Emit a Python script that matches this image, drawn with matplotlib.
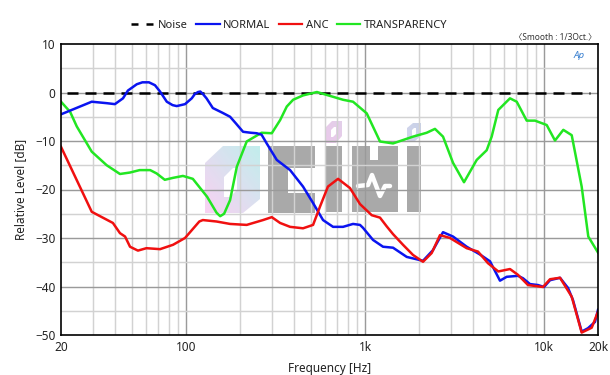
import numpy as np
import matplotlib
matplotlib.use("Agg")
import matplotlib.pyplot as plt
from matplotlib.patches import Polygon, Rectangle
from matplotlib.lines import Line2D

plt.rcParams['font.family'] = ['Noto Sans', 'Noto Sans CJK KR', 'DejaVu Sans']

# ---------------- data ----------------
noise_f = [21.6, 18000]
noise_db = [0, 0]

normal_f = [20, 29.7, 36, 40, 44.4, 47.3, 53, 57, 62, 67, 71.5, 78, 84, 88.6, 98.6, 107.5,
            112, 116.6, 120, 124, 130, 141, 160, 176, 190, 208, 230, 248, 264, 282, 321, 381, 450, 512,
            582, 662, 753, 856, 936, 973, 1107, 1259, 1432, 1708, 2106, 2394, 2724,
            3098, 3694, 4382, 4984, 5668, 6180, 7146, 7622, 8338, 9244, 9986, 10788,
            12268, 13600, 14496, 16212, 17580, 19240, 20000]
normal_db = [-4.5, -1.9, -2.2, -2.4, -1.2, 0.4, 1.7, 2.1, 2.1, 1.5, 0.2, -1.9, -2.6, -2.8, -2.4, -1.2,
             -0.3, 0.1, 0.2, -0.3, -1.2, -3.2, -4.2, -5.0, -6.4, -8.1, -8.3, -8.4, -8.7, -10.5, -13.9, -16.0, -19.4, -22.8,
             -26.3, -27.7, -27.7, -27.1, -27.3, -27.9, -30.4, -31.8, -32.0, -33.9, -34.7, -32.5, -28.8,
             -29.7, -31.8, -33.4, -34.8, -38.8, -38.0, -37.8, -38.3, -39.5, -39.7, -40.1, -38.7,
             -38.2, -40.3, -42.8, -49.3, -48.6, -47.3, -44.8]

anc_f = [20, 29.7, 39, 42.7, 45.6, 48.6, 53.8, 60, 71.5, 84.5, 98.6, 107.5, 118.5, 124,
         148, 176, 218, 269, 301, 335, 381, 450, 512, 560, 620, 706, 823, 936, 1089,
         1211, 1320, 1432, 1628, 1852, 2106, 2355, 2620, 2980, 3694, 4272, 4858, 5546,
         6446, 7146, 8128, 9856, 10788, 12268, 14262, 16212, 18444, 20000]
anc_db = [-11.2, -24.6, -26.9, -29.0, -29.7, -31.8, -32.6, -32.1, -32.3, -31.4, -30.0, -28.4, -26.6, -26.3,
          -26.6, -27.1, -27.3, -26.3, -25.7, -26.9, -27.7, -28.0, -27.3, -23.5, -19.4, -17.8, -19.7, -23.0, -25.3,
          -25.8, -27.6, -29.2, -31.4, -33.5, -34.9, -33.1, -29.4, -30.0, -32.1, -32.8, -35.2, -36.9,
          -36.4, -37.6, -39.7, -40.1, -38.5, -38.2, -42.1, -49.5, -48.5, -45.2]

trans_f = [20, 22.5, 24.5, 29.7, 36, 42.7, 48.6, 55, 63, 68.5, 76, 84.5, 96, 109,
           131, 148, 155, 163, 176, 192, 218, 264, 301, 335, 365, 396, 450, 538, 753, 856, 1021,
           1211, 1432, 1852, 2208, 2456, 2724, 3098, 3568, 4202, 4778, 5094, 5546,
           6446, 7030, 7994, 8892, 10336, 11502, 12800, 14262, 16212, 17652, 20000]
trans_db = [-1.9, -4.0, -7.0, -12.2, -15.0, -16.8, -16.5, -16.0, -16.0, -16.7, -18.0, -17.6, -17.2, -17.8,
            -21.5, -24.8, -25.5, -25.0, -22.2, -15.3, -10.1, -8.3, -8.4, -5.7, -2.9, -1.5, -0.6, 0.1, -1.5, -1.9, -4.3,
            -10.1, -10.5, -9.1, -8.3, -7.5, -9.1, -14.5, -18.5, -13.9, -11.9, -9.1, -3.6,
            -1.2, -1.9, -5.8, -5.8, -6.7, -9.9, -7.7, -8.8, -19.4, -29.7, -33.0]

x_ticks = [20, 100, 1000, 10000, 20000]
x_labels = ['20', '100', '1k', '10k', '20k']
y_ticks = [10, 0, -10, -20, -30, -40, -50]

# ---------------- figure ----------------
fig = plt.figure(figsize=(6.10, 3.75), dpi=100)
ax = fig.add_axes([61/610, 40/375, 537/610, 291/375])
ax.set_xscale('log')
ax.set_xlim(20, 20000)
ax.set_ylim(-50, 10)

# grid
minor_x = [v * d for d in (10, 100, 1000) for v in range(2, 10) if 20 < v * d < 20000]
minor_x = [m for m in minor_x if m not in (100, 1000, 10000)]
for m in minor_x:
    ax.axvline(m, color='#d2d2d2', lw=1.0, zorder=1)
for m in (100, 1000, 10000):
    ax.axvline(m, color='#9a9a9a', lw=1.0, zorder=1)
for yv in range(-45, 10, 10):
    ax.axhline(yv, color='#d2d2d2', lw=1.0, zorder=1)
for yv in range(-40, 10, 10):
    ax.axhline(yv, color='#9a9a9a', lw=1.0, zorder=1)

# watermark (decorative, positioned in axes fraction)
def P(x, y):
    return ((x - 61) / 537, (335 - y) / 291)

T = ax.transAxes

def grad_poly(pts, c1, c2, hole=None):
    poly = Polygon([P(*p) for p in pts], closed=True, transform=T, facecolor='none', edgecolor='none')
    ax.add_patch(poly)
    xs = [P(*p)[0] for p in pts]; ys = [P(*p)[1] for p in pts]
    g = np.linspace(0, 1, 64)
    gx, gy = np.meshgrid(g, g)
    t = (gx + gy) / 2.0
    a = np.array(matplotlib.colors.to_rgb(c1)); b = np.array(matplotlib.colors.to_rgb(c2))
    img = a[None, None, :] * (1 - t[..., None]) + b[None, None, :] * t[..., None]
    im = ax.imshow(img, extent=(min(xs), max(xs), min(ys), max(ys)), origin='lower',
                   transform=T, aspect='auto', zorder=0.6, alpha=0.8, interpolation='bilinear')
    im.set_clip_path(poly)
    if hole is not None:
        ax.add_patch(Polygon([P(*p) for p in hole], closed=True, transform=T,
                             facecolor='white', edgecolor='none', zorder=0.7))

grad_poly([(223, 146), (260, 146), (260, 199), (243, 213), (205, 213), (205, 163)],
          '#f8c6f0', '#b2eae8',
          hole=[(224, 177), (233, 168), (237, 168), (237, 190), (230, 197), (224, 197)])
grad_poly([(332, 121), (342, 121), (342, 136), (336, 143), (325, 143), (325, 128)],
          '#e6bce6', '#dcc4e4',
          hole=[(331, 130), (334, 127), (336, 127), (336, 134), (333, 137), (331, 137)])
grad_poly([(413, 123), (421, 123), (421, 136), (415, 141), (407, 141), (407, 128)],
          '#c8cce8', '#bcc6e2',
          hole=[(412, 130), (414, 128), (416, 128), (416, 134), (414, 136), (412, 136)])

wm = '#a9a9a9'
def blk(x0, y0, x1, y1, c=wm, z=0.6):
    ax.add_patch(Rectangle(P(x0, y1), (x1 - x0) / 537, (y1 - y0) / 291, transform=T,
                           facecolor=c, edgecolor='none', zorder=z))
# C
blk(268, 146, 315, 168); blk(268, 146, 288, 213); blk(268, 193, 315, 213)
# i
blk(325, 146, 342, 212)
# H
blk(352, 146, 398, 212); blk(370, 146, 378, 160, c='white', z=0.7)
# i
blk(407, 146, 421, 212)
# pulse on H
px = [358, 368, 372, 380, 385, 390]
py = [186, 185, 175, 196, 186, 186]
ax.plot([P(a, b)[0] for a, b in zip(px, py)], [P(a, b)[1] for a, b in zip(px, py)],
        color='white', lw=3.2, transform=T, zorder=0.8, solid_capstyle='round',
        solid_joinstyle='round')

# faint grid over the watermark
for m in minor_x + [100, 1000, 10000]:
    ax.axvline(m, color='#d8d8d8', lw=0.8, zorder=0.9, alpha=0.6)
for yv in range(-45, 10, 5):
    ax.axhline(yv, color='#d8d8d8', lw=0.8, zorder=0.9, alpha=0.5)

# data
ax.plot(noise_f, noise_db, color='black', lw=1.8, dashes=(4.4, 2.8), zorder=3, label='Noise')
ax.plot(trans_f, trans_db, color='#22e622', lw=1.8, zorder=4, label='TRANSPARENCY',
        solid_joinstyle='round')
ax.plot(normal_f, normal_db, color='#0a14f0', lw=1.8, zorder=5, label='NORMAL',
        solid_joinstyle='round')
ax.plot(anc_f, anc_db, color='#f01010', lw=1.8, zorder=6, label='ANC',
        solid_joinstyle='round')

ax.set_xticks(x_ticks)
ax.set_xticklabels(x_labels)
ax.xaxis.set_minor_locator(matplotlib.ticker.NullLocator())
ax.set_yticks(y_ticks)
ax.tick_params(axis='both', length=0, labelsize=8.5, colors='#222222', pad=4)
ax.set_xlabel('Frequency [Hz]', fontsize=8.5, color='#222222', labelpad=6)
ax.set_ylabel('Relative Level [dB]', fontsize=8.5, color='#222222', labelpad=6)
for s in ax.spines.values():
    s.set_color('black'); s.set_linewidth(1.2); s.set_zorder(10)

handles = [Line2D([], [], color='black', lw=1.8, dashes=(2.8, 3.2)),
           Line2D([], [], color='#0a14f0', lw=1.6),
           Line2D([], [], color='#f01010', lw=1.6),
           Line2D([], [], color='#22e622', lw=1.6)]
fig.legend(handles, ['Noise', 'NORMAL', 'ANC', 'TRANSPARENCY'], loc='center',
           bbox_to_anchor=(289/610, 1 - 25/375), ncol=4, frameon=False, fontsize=8,
           handlelength=2.1, handletextpad=0.3, columnspacing=0.8, labelcolor='#222222')

fig.text(597/610, 1 - 37/375, '〈Smooth : 1/3Oct.〉', ha='right', va='center', fontsize=6,
         color='#333333')
ax.text((579 - 61) / 537, (335 - 56) / 291, 'Ap', transform=T, ha='center', va='center',
        fontsize=7, color='#3a80d0', style='italic', fontweight='bold', zorder=11)

fig.savefig('out.png', dpi=100)
